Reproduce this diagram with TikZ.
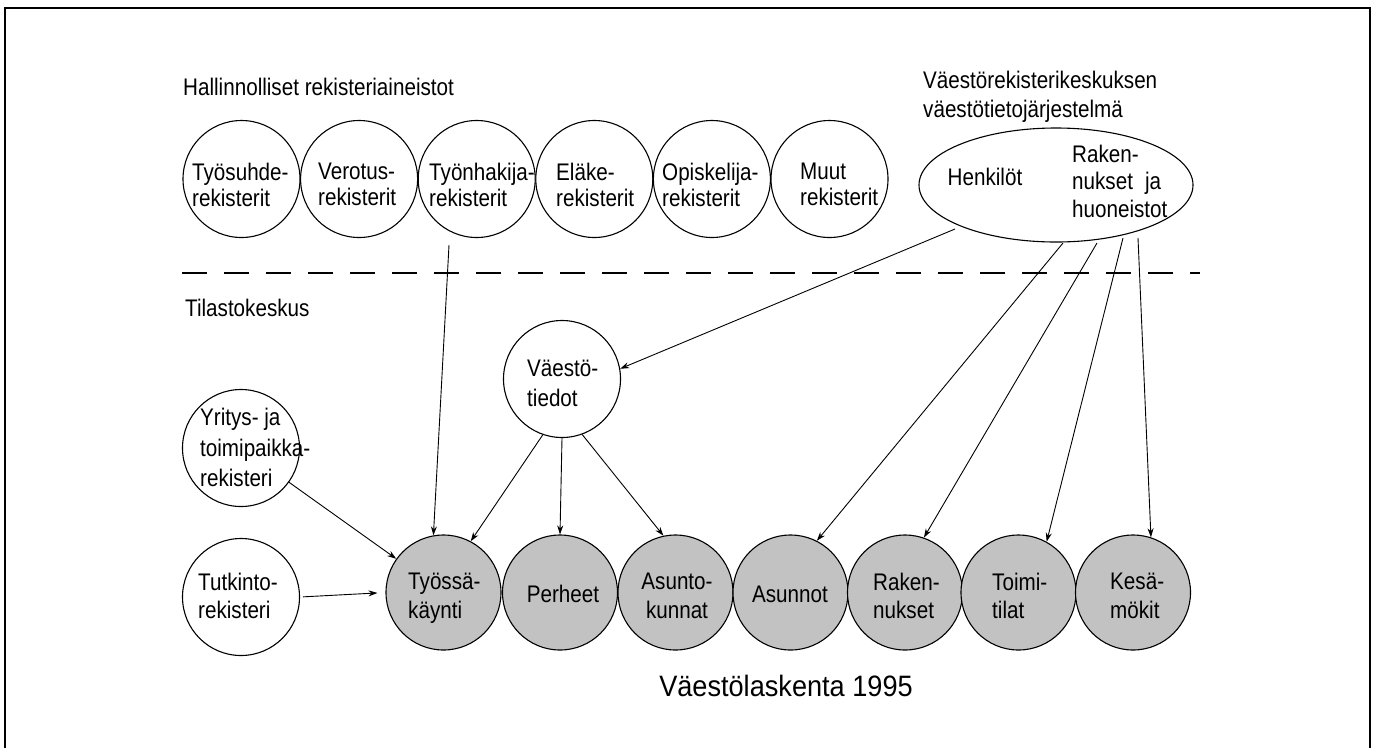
\documentclass[tikz,border=0pt]{standalone}
\usepackage{fontspec}
\setmainfont{Liberation Sans}[FakeStretch=0.86]
\newfontfamily\titlefont{Liberation Sans}[FakeStretch=0.92]
\usetikzlibrary{shapes.geometric,arrows.meta}
\begin{document}
\begin{tikzpicture}[x=1pt,y=-1pt,
  reg/.style={circle,draw,line width=1.1pt,minimum size=117pt,inner sep=0pt},
  outc/.style={circle,draw,line width=1.1pt,minimum size=115pt,inner sep=0pt,fill=black!24},
  txt/.style={inner sep=0pt,align=left,font=\fontsize{24}{26}\selectfont},
  txtb/.style={inner sep=0pt,align=left,font=\fontsize{24}{28.5}\selectfont},
  txtc/.style={inner sep=0pt,align=left,font=\fontsize{24}{30.5}\selectfont},
  arr/.style={line width=0.9pt,-{Stealth[length=9pt,width=6pt]}}
]
\useasboundingbox (0,0) rectangle (1379,748);
% frame
\draw[line width=1.6pt] (5,748) -- (5,8) -- (1370,8) -- (1370,748);

% headings
\node[txt,anchor=west] (hall) at (183,86.5) {Hallinnolliset rekisteriaineistot};
\node[txt,anchor=west,font=\fontsize{24}{29}\selectfont] (vrkT) at (923,96.5) {Väestörekisterikeskuksen\\väestötietojärjestelmä};
\node[txt,anchor=west] (tilasto) at (185,308) {Tilastokeskus};

% dashed separator
\coordinate (dashL) at (182,273);
\coordinate (dashR) at (1200,273);
\draw[line width=1.1pt,dash pattern=on 25pt off 17pt] (dashL) -- (dashR);

% top registers
\node[reg] (tyosuhde) at (241.5,179) {};
\node[reg] (verotus) at (359.1,179) {};
\node[reg] (hakija) at (476.7,179) {};
\node[reg] (elake) at (594.3,179) {};
\node[reg] (opisk) at (711.9,179) {};
\node[reg] (muut) at (829.5,179) {};
\node[txt,anchor=west] (tyosuhdeT) at (192,184.5) {Työsuhde-\\rekisterit};
\node[txt,anchor=west] (verotusT) at (318,184.5) {Verotus-\\rekisterit};
\node[txt,anchor=west] (hakijaT) at (429,184.5) {Työnhakija-\\rekisterit};
\node[txt,anchor=west] (elakeT) at (556,184.5) {Eläke-\\rekisterit};
\node[txt,anchor=west] (opiskT) at (662,184.5) {Opiskelija-\\rekisterit};
\node[txt,anchor=west] (muutT) at (800,184.5) {Muut\\rekisterit};

% population register ellipse
\node[ellipse,draw,line width=1.1pt,minimum width=274pt,minimum height=114pt,inner sep=0pt] (vrk) at (1056,185) {};
\node[txt] (henk) at (985,177) {Henkilöt};
\node[txt,anchor=west,font=\fontsize{24}{27.5}\selectfont] (rakh) at (1072,181) {Raken-\\nukset\enspace ja\\huoneistot};

% Tilastokeskus registers
\node[reg] (vt) at (562,379) {};
\node[txtc,anchor=west] (vtT) at (527,383.5) {Väestö-\\tiedot};
\node[reg] (yritys) at (241,448) {};
\node[txtc,anchor=west] (yritysT) at (200,447.5) {Yritys- ja\\toimipaikka-\\rekisteri};
\node[reg] (tutk) at (241,597) {};
\node[txtb,anchor=west] (tutkT) at (198,596) {Tutkinto-\\rekisteri};

% census outputs
\node[outc] (tyossa) at (443.5,592.5) {};
\node[outc] (perheet) at (560,592.5) {};
\node[outc] (ask) at (675.5,592.5) {};
\node[outc] (asunnot) at (790.5,592.5) {};
\node[outc] (rak) at (905,592.5) {};
\node[outc] (toimi) at (1018.5,592.5) {};
\node[outc] (kesa) at (1133,592.5) {};
\node[txtb,anchor=west] (tyossaT) at (408,598) {Työssä-\\käynti};
\node[txtb] (perheetT) at (563,594) {Perheet};
\node[txtb,align=center] (askT) at (677,596) {Asunto-\\kunnat};
\node[txtb] (asunnotT) at (790,594) {Asunnot};
\node[txtb,anchor=west] (rakT) at (873,596) {Raken-\\nukset};
\node[txtb,anchor=west] (toimiT) at (992,596) {Toimi-\\tilat};
\node[txtb,anchor=west] (kesaT) at (1110,596) {Kesä-\\mökit};

\node[inner sep=0pt,font=\titlefont\fontsize{29.5}{32}\selectfont] (census) at (786,686) {Väestölaskenta 1995};

% connectors
\coordinate (hakS) at (449,245);
\draw[arr] (hakS) -- (tyossa.100);
\draw[arr] (yritys) -- (tyossa);
\draw[arr,shorten <=3pt,shorten >=8pt] (tutk.east) -- (tyossa.west);
\draw[arr] (vt.-109) -- (tyossa.62);
\draw[arr] (vt.-90) -- (perheet.90);
\draw[arr] (vt.-70) -- (ask.102);
\coordinate (henkS) at (955,229);
\draw[arr] (henkS) -- (vt.10);
\coordinate (e1) at (1063,243);
\coordinate (e2) at (1097,243);
\coordinate (e3) at (1123,238);
\coordinate (e4) at (1138,238);
\draw[arr] (e1) -- (asunnot.63);
\draw[arr] (e2) -- (rak.71);
\draw[arr] (e3) -- (toimi.61);
\draw[arr] (e4) -- (kesa.72);
\end{tikzpicture}
\end{document}
